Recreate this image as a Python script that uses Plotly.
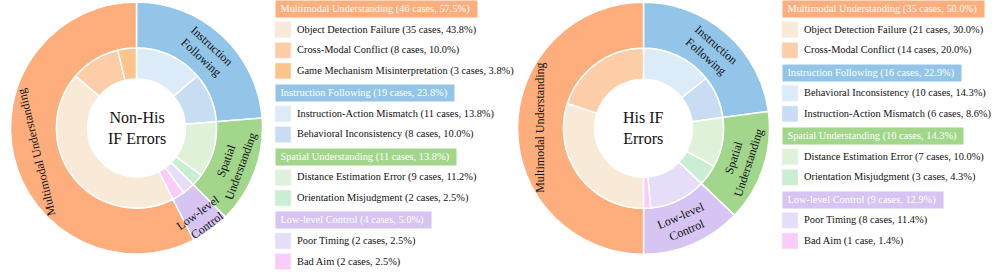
import math
import plotly.graph_objects as go

W, H = 996, 275
FONT = "Liberation Serif, Times New Roman, serif"

# ---------------- data ----------------
group_names = ["Multimodal Understanding", "Instruction Following",
               "Spatial Understanding", "Low-level Control"]
group_ring_labels = ["Multimodal Understanding", "Instruction<br>Following",
                     "Spatial<br>Understanding", "Low-level<br>Control"]

nonhis_items = [["Object Detection Failure", "Cross-Modal Conflict", "Game Mechanism Misinterpretation"],
                ["Instruction-Action Mismatch", "Behavioral Inconsistency"],
                ["Distance Estimation Error", "Orientation Misjudgment"],
                ["Poor Timing", "Bad Aim"]]
nonhis_counts = [[35, 8, 3], [11, 8], [9, 2], [2, 2]]

his_items = [["Object Detection Failure", "Cross-Modal Conflict"],
             ["Behavioral Inconsistency", "Instruction-Action Mismatch"],
             ["Distance Estimation Error", "Orientation Misjudgment"],
             ["Poor Timing", "Bad Aim"]]
his_counts = [[21, 14], [10, 6], [7, 3], [8, 1]]

center_titles = ["Non-His<br>IF Errors", "His IF<br>Errors"]

# ---------------- styles ----------------
group_colors = ["#fdae7c", "#93c5e9", "#a1d68b", "#d6c4f2"]
item_colors = [["#f9e9d7", "#fdcda7", "#fdc48c"],
               ["#dcebf8", "#c8dcf2"],
               ["#e0f1d9", "#caedd3"],
               ["#e6ddf8", "#f9ccfa"]]
pie_order = [1, 2, 3, 0]  # clockwise from 12 o'clock

R_OUT, R_MID, R_HOLE = 126, 80, 49
LEG_FS = 10.4
NB = "&nbsp;"

fig = go.Figure()


def dom(cx, cy, r):
    return dict(x=[(cx - r) / W, (cx + r) / W], y=[1 - (cy + r) / H, 1 - (cy - r) / H])


def add_sunburst(cx, cy, items, counts, title):
    g_vals = [sum(counts[g]) for g in pie_order]
    fig.add_trace(go.Pie(
        labels=[group_names[g] for g in pie_order],
        values=g_vals, textinfo="none",
        marker=dict(colors=[group_colors[g] for g in pie_order],
                    line=dict(color="white", width=1.5)),
        hole=R_MID / R_OUT, sort=False, direction="clockwise", rotation=0,
        domain=dom(cx, cy, R_OUT), showlegend=False, hoverinfo="label+value"))
    labs, vals, cols = [], [], []
    for g in pie_order:
        for j, (lab, v) in enumerate(zip(items[g], counts[g])):
            labs.append(lab)
            vals.append(v)
            cols.append(item_colors[g][j])
    fig.add_trace(go.Pie(
        labels=labs, values=vals, textinfo="none",
        marker=dict(colors=cols, line=dict(color="white", width=1.5)),
        hole=R_HOLE / R_MID, sort=False, direction="clockwise", rotation=0,
        domain=dom(cx, cy, R_MID), showlegend=False, hoverinfo="label+value"))
    fig.add_annotation(x=cx / W, y=1 - cy / H, xref="paper", yref="paper",
                       xanchor="center", yanchor="middle",
                       text=title, showarrow=False, align="center",
                       font=dict(family=FONT, size=16, color="#111"))
    # tangential labels on the outer ring, placed at each sector's mid angle
    total = sum(g_vals)
    cum = 0
    for g, v in zip(pie_order, g_vals):
        frac = v / total
        theta = 360 * (cum + v / 2) / total
        cum += v
        if theta <= 90:
            ang = theta
        elif theta <= 180:
            ang = theta - 180
        else:
            ang = theta - 360
        # narrow sectors push their label a little outward
        rm = (R_MID + R_OUT) / 2 + (10 if frac < 0.08 else 0)
        t = math.radians(theta)
        fig.add_annotation(x=(cx + rm * math.sin(t)) / W, y=1 - (cy - rm * math.cos(t)) / H,
                           xref="paper", yref="paper", showarrow=False,
                           text=group_ring_labels[g], textangle=ang, align="center",
                           xanchor="center", yanchor="middle",
                           font=dict(family=FONT, size=12, color="#111"))


def add_legend(x0, items, counts):
    total = sum(sum(c) for c in counts)
    row = 0
    for g in range(len(group_names)):
        n = sum(counts[g])
        yc = 9 + 20.65 * row + 1.6 * g
        fig.add_annotation(
            x=x0 / W, y=1 - yc / H, xref="paper", yref="paper",
            xanchor="left", yanchor="middle", showarrow=False,
            text=f"{NB}{group_names[g]} ({n} cases, {100 * n / total:.1f}%){NB}{NB}",
            bgcolor=group_colors[g], borderpad=1.8,
            font=dict(family=FONT, size=LEG_FS, color="white"))
        row += 1
        for j, (lab, v) in enumerate(zip(items[g], counts[g])):
            yc = 9 + 20.65 * row + 1.6 * g
            fig.add_shape(type="rect", xref="paper", yref="paper",
                          x0=x0 / W, x1=(x0 + 16) / W,
                          y0=1 - (yc + 8) / H, y1=1 - (yc - 8) / H,
                          fillcolor=item_colors[g][j], line=dict(width=0.6, color="#f4f4f4"))
            word = "case" if v == 1 else "cases"
            fig.add_annotation(
                x=(x0 + 20.5) / W, y=1 - yc / H, xref="paper", yref="paper",
                xanchor="left", yanchor="middle", showarrow=False,
                text=f"{lab} ({v} {word}, {100 * v / total:.1f}%)",
                borderpad=0, font=dict(family=FONT, size=LEG_FS, color="#111"))
            row += 1


add_sunburst(136.5, 128, nonhis_items, nonhis_counts, center_titles[0])
add_sunburst(643.5, 128.3, his_items, his_counts, center_titles[1])
add_legend(275, nonhis_items, nonhis_counts)
add_legend(782, his_items, his_counts)

fig.update_layout(width=W, height=H, margin=dict(l=0, r=0, t=0, b=0),
                  paper_bgcolor="white", plot_bgcolor="white",
                  font=dict(family=FONT))
fig.write_html("out.html", config={"displayModeBar": False},
               post_script="document.body.style.margin='0px';document.body.style.overflow='hidden';")
